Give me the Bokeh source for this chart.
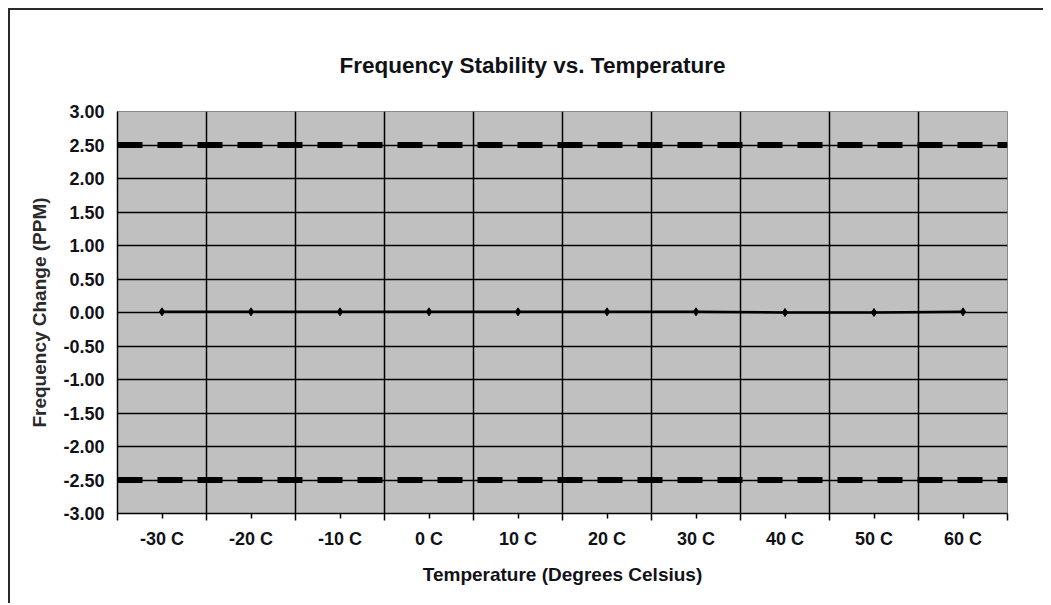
from bokeh.plotting import figure
from bokeh.models import FixedTicker, Range1d, Span, PrintfTickFormatter
from bokeh.embed import file_html
from bokeh.resources import INLINE

# ---- data ----
temperatures = ["-30 C", "-20 C", "-10 C", "0 C", "10 C", "20 C", "30 C", "40 C", "50 C", "60 C"]
freq_change_ppm = [0.01, 0.01, 0.01, 0.01, 0.01, 0.01, 0.01, 0.0, 0.0, 0.01]
upper_limit = 2.5
lower_limit = -2.5
y_ticks = [-3.0, -2.5, -2.0, -1.5, -1.0, -0.5, 0.0, 0.5, 1.0, 1.5, 2.0, 2.5, 3.0]

n = len(temperatures)
x_pos = [i + 0.5 for i in range(n)]

FONT = "Liberation Sans"
TXT = "#111118"

p = figure(
    width=1035, height=595,
    x_range=Range1d(0, n), y_range=Range1d(y_ticks[0], y_ticks[-1]),
    output_backend="svg", toolbar_location=None,
    min_border_left=107, min_border_right=38, min_border_top=101, min_border_bottom=92,
    background_fill_color="#c0c0c0", border_fill_color="white",
    outline_line_color="#8a8a8a", outline_line_width=1,
    title="Frequency Stability vs. Temperature",
)
p.styles = {"margin-left": "8px", "margin-top": "8px",
            "border-left": "2px solid #2a2a2a", "border-top": "2px solid #2a2a2a"}

p.title.align = "left"
p.title.offset = 222
p.title.text_font = FONT
p.title.text_font_size = "22.5px"
p.title.text_font_style = "bold"
p.title.text_color = TXT
p.title.standoff = 68

# x axis
xa = p.xaxis[0]
xa.ticker = FixedTicker(ticks=x_pos, minor_ticks=list(range(n + 1)))
xa.major_label_overrides = {x: t for x, t in zip(x_pos, temperatures)}
xa.axis_label = "Temperature (Degrees Celsius)"
xa.axis_line_color = "black"
xa.axis_line_width = 1.5
xa.major_tick_in = 0
xa.major_tick_out = 5
xa.minor_tick_in = 0
xa.minor_tick_out = 7
xa.major_tick_line_color = "black"
xa.minor_tick_line_color = "black"
xa.major_tick_line_width = 1.5
xa.minor_tick_line_width = 1.5
xa.major_label_text_font = FONT
xa.major_label_text_font_size = "18px"
xa.major_label_text_font_style = "bold"
xa.major_label_text_color = TXT
xa.major_label_standoff = 8
xa.axis_label_text_font = FONT
xa.axis_label_text_font_size = "19px"
xa.axis_label_text_font_style = "bold"
xa.axis_label_text_color = TXT
xa.axis_label_standoff = 12

# y axis
ya = p.yaxis[0]
ya.ticker = FixedTicker(ticks=y_ticks)
ya.formatter = PrintfTickFormatter(format="%.2f")
ya.axis_label = "Frequency Change (PPM)"
ya.axis_line_color = "black"
ya.axis_line_width = 1.5
ya.major_tick_in = 0
ya.major_tick_out = 0
ya.minor_tick_line_color = None
ya.major_label_text_font = FONT
ya.major_label_text_font_size = "18px"
ya.major_label_text_font_style = "bold"
ya.major_label_text_color = TXT
ya.major_label_standoff = 13
ya.axis_label_text_font = FONT
ya.axis_label_text_font_size = "19px"
ya.axis_label_text_font_style = "bold"
ya.axis_label_text_color = "#2a2a2a"
ya.axis_label_standoff = 10

# grids
p.xgrid.ticker = FixedTicker(ticks=list(range(1, n)))
p.xgrid.grid_line_color = "black"
p.xgrid.grid_line_width = 1.5
p.ygrid.ticker = FixedTicker(ticks=y_ticks[1:-1])
p.ygrid.grid_line_color = "black"
p.ygrid.grid_line_width = 1.5

# limit lines
for lim in (upper_limit, lower_limit):
    p.add_layout(Span(location=lim, dimension="width", line_color="black",
                      line_width=6, line_dash="25 15", line_cap="butt"))

# data
p.line(x_pos, freq_change_ppm, line_color="black", line_width=2.5)
p.scatter(x_pos, freq_change_ppm, marker="diamond", size=8, color="black")

open("out.html", "w").write(file_html(p, INLINE))
